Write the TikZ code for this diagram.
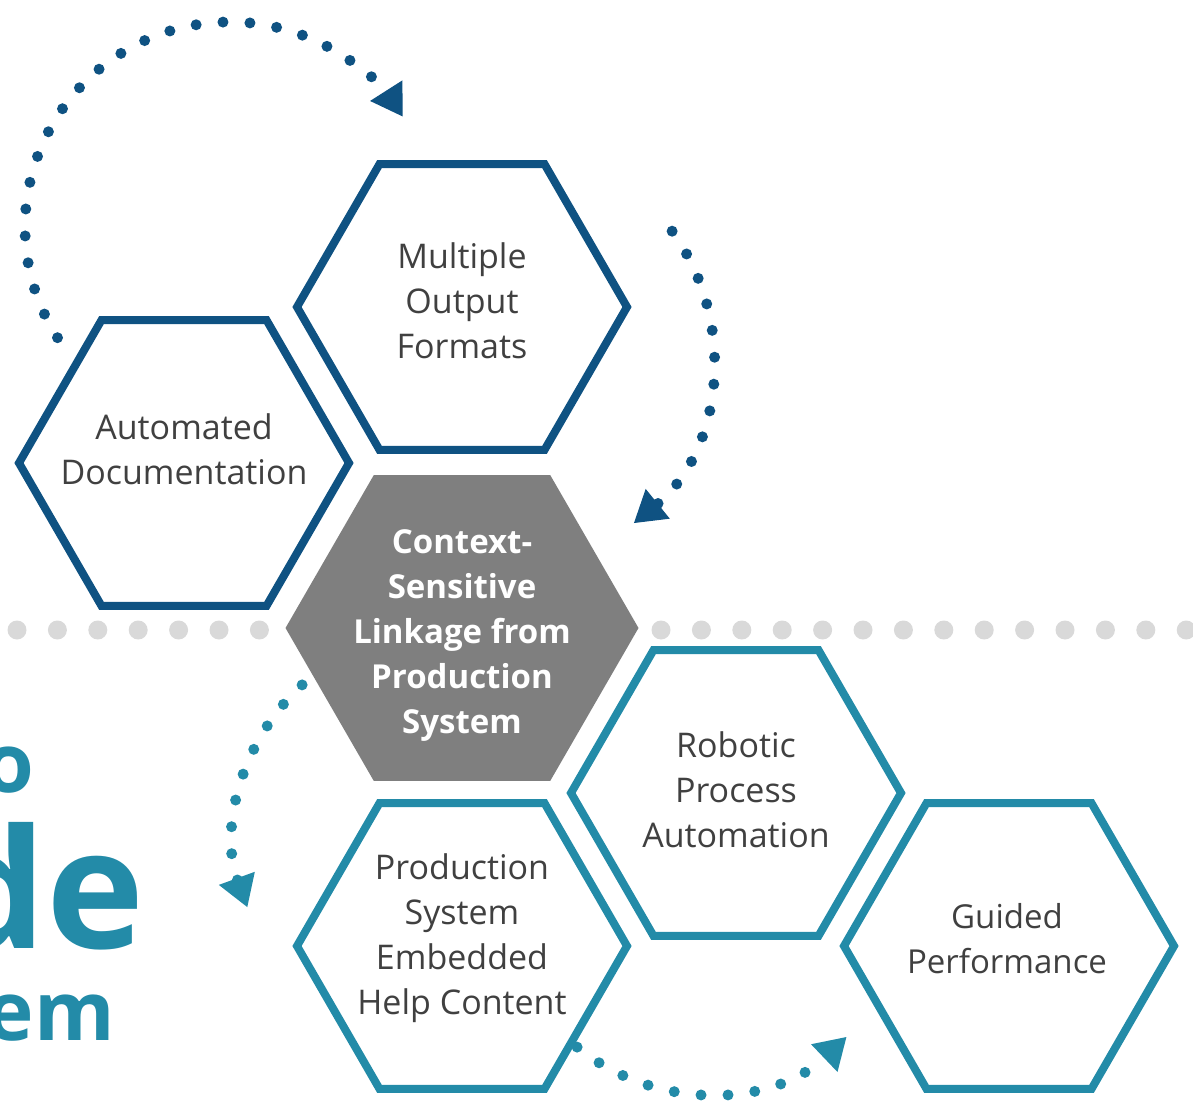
\documentclass[tikz,border=0pt]{standalone}
\usepackage{fontspec}
\setmainfont{Open Sans}
\usepackage{tikz}
\usetikzlibrary{shapes.geometric}
\usetikzlibrary{arrows.meta}
\definecolor{darkblue}{HTML}{0F5282}
\definecolor{hexteal}{HTML}{238BA8}
\definecolor{hexgray}{HTML}{7F7F7F}
\definecolor{dotgray}{HTML}{D9D9D9}
\definecolor{txtgray}{HTML}{404040}
\tikzset{
  hexagon/.style = {regular polygon, regular polygon sides=6, minimum size=165pt, inner sep=0pt, line width=4pt, draw=#1},
  hex text/.style = {align=center, inner sep=0pt, text=txtgray, font=\fontsize{17}{22.5}\selectfont},
  arc dots/.style = {#1, line width=5.5pt, line cap=round, dash pattern=on 0pt off 13.5pt, -{Triangle[length=15.5pt,width=18pt]}},
  grey dots/.style = {dotgray, line width=9.5pt, line cap=round, dash pattern=on 0pt off 20.2pt},
  big text/.style = {anchor=base east, inner sep=0pt, text=hexteal, font=\bfseries\fontsize{#1}{#1}\selectfont}
}

\begin{document}
\begin{tikzpicture}[x=0.5pt,y=-0.5pt]
  \useasboundingbox (0,0) rectangle (1193,1101);
  \clip (0,0) rectangle (1193,1101);

  % divider
  \coordinate (gl1) at (17,630);
  \coordinate (gl2) at (260,630);
  \coordinate (gr1) at (661,630);
  \coordinate (gr2) at (1190,630);
  \draw[grey dots] (gl1) -- (gl2);
  \draw[grey dots] (gr1) -- (gr2);

  % hexagons
  \node[hexagon=darkblue] (hexMof) at (462,307) {};
  \node[hexagon=darkblue] (hexAuto) at (184,463) {};
  \node[hexagon=none, fill=hexgray, minimum size=176.5pt] (hexCtx) at (462,628) {};
  \node[hexagon=hexteal] (hexRpa) at (736,793) {};
  \node[hexagon=hexteal] (hexHelp) at (462,946) {};
  \node[hexagon=hexteal] (hexGuide) at (1009,946) {};

  \node[hex text] (tMof) at (462,301) {Multiple\\Output\\Formats};
  \node[hex text] (tAuto) at (184,449) {Automated\\Documentation};
  \node[hex text, text=white, font=\bfseries\fontsize{16.5}{22.5}\selectfont] (tCtx) at (462,636)
    {Context-\\Sensitive\\Linkage from\\Production\\System};
  \node[hex text] (tRpa) at (736,790) {Robotic\\Process\\Automation};
  \node[hex text] (tHelp) at (462,938) {Production\\System\\Embedded\\Help Content};
  \node[hex text, font=\fontsize{16.5}{22.5}\selectfont] (tGuide) at (1007,939) {Guided\\Performance};

  % cut-off title
  \node[big text=41] (tO) at (35,792) {o};
  \node[big text=83] (tDe) at (145,948) {de};
  \node[big text=41] (tEm) at (115,1040) {em};

  % cycle arrows
  \coordinate (arcA) at (57.5,337.7);
  \coordinate (arcB) at (672.1,231.2);
  \coordinate (arcC) at (302.1,684.9);
  \coordinate (arcD) at (577.1,1047.1);
  \draw[arc dots=darkblue] (arcA) arc[start angle=147.3, end angle=327.5, radius=205];
  \draw[arc dots=darkblue] (arcB) arc[start angle=-36, end angle=51, radius=214];
  \draw[arc dots=hexteal] (arcC) arc[start angle=-132.4, end angle=-200, radius=206];
  \draw[arc dots=hexteal] (arcD) arc[start angle=129.2, end angle=46.4, radius=204];
\end{tikzpicture}
\end{document}
